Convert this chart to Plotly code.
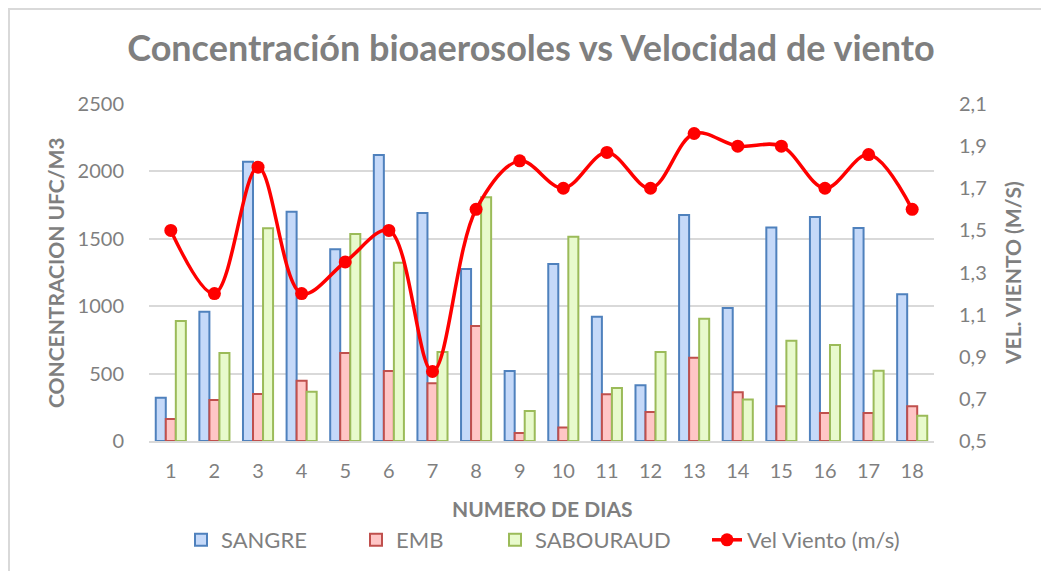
import plotly.graph_objects as go

dias = [str(i) for i in range(1, 19)]
sangre = [320, 959, 2072, 1701, 1422, 2122, 1691, 1276, 519, 1313, 922, 413, 1677, 987, 1583, 1662, 1580, 1088]
emb = [163, 304, 349, 447, 653, 519, 428, 853, 59, 101, 346, 215, 618, 361, 257, 208, 208, 257]
sabouraud = [890, 653, 1578, 366, 1536, 1323, 660, 1808, 223, 1516, 393, 660, 907, 307, 744, 712, 522, 188]
vel_viento = [1.5, 1.2, 1.8, 1.2, 1.35, 1.5, 0.83, 1.6, 1.83, 1.7, 1.87, 1.7, 1.96, 1.9, 1.9, 1.7, 1.86, 1.6]

FONT = "Lato"
GRAY = "#7F7F7F"

W, H = 1049, 571
OFF = 8  # page body margin
# plot area in screen pixels: x 149..934, y 104..441
L = 149 - OFF
T = 104 - OFF
PW, PH = 785, 337
R = W - L - PW
B = H - T - PH


def px(x):  # screen x -> paper
    return (x - OFF - L) / PW


def py(y):  # screen y -> paper
    return (T + PH - (y - OFF)) / PH


fig = go.Figure()
fig.add_trace(go.Bar(x=dias, y=sangre, name="SANGRE", legend="legend",
                     marker=dict(color="#C5D9F9", line=dict(color="#4F81BD", width=2))))
fig.add_trace(go.Bar(x=dias, y=emb, name="EMB", legend="legend2",
                     marker=dict(color="#FFC6C6", line=dict(color="#C0504D", width=2))))
fig.add_trace(go.Bar(x=dias, y=sabouraud, name="SABOURAUD", legend="legend3",
                     marker=dict(color="#E8FACC", line=dict(color="#9BBB59", width=2))))
fig.add_trace(go.Scatter(x=dias, y=vel_viento, name="Vel Viento (m/s)", yaxis="y2", legend="legend4",
                         mode="lines+markers",
                         line=dict(color="#FF0000", width=3.5, shape="spline", smoothing=1.0),
                         marker=dict(color="#FF0000", size=13, symbol="circle")))


def leg(text_start):
    return dict(orientation="h", x=px(text_start - 41), xanchor="left", y=py(540), yanchor="middle",
                font=dict(size=22, color=GRAY, family=FONT), bgcolor="rgba(0,0,0,0)")


fig.update_layout(
    width=W, height=H,
    margin=dict(l=L, r=R, t=T, b=B, autoexpand=False),
    paper_bgcolor="white", plot_bgcolor="white",
    separators=",.",
    font=dict(family=FONT, color=GRAY, size=20),
    barmode="group", bargap=0.31, bargroupgap=0,
    title=dict(text="<b>Concentración bioaerosoles vs Velocidad de viento</b>",
               x=px(531), xref="paper", xanchor="center",
               y=1 - (48 - OFF) / H, yanchor="middle",
               font=dict(family=FONT, size=36, color=GRAY)),
    xaxis=dict(type="category", range=[-0.5, 17.5], showgrid=False,
               showline=True, linecolor="#D9D9D9", linewidth=1.5,
               ticks="outside", ticklen=11, tickcolor="rgba(0,0,0,0)",
               tickfont=dict(size=20, color=GRAY)),
    yaxis=dict(range=[0, 2500], dtick=500, showgrid=True, gridcolor="#D9D9D9", gridwidth=1.5,
               zeroline=False, showline=False,
               ticks="outside", ticklen=20, tickcolor="rgba(0,0,0,0)",
               tickfont=dict(size=20, color=GRAY)),
    yaxis2=dict(range=[0.5, 2.1], dtick=0.2, tick0=0.5, overlaying="y", side="right",
                showgrid=False, zeroline=False, showline=False, tickformat=".1f",
                ticks="outside", ticklen=20, tickcolor="rgba(0,0,0,0)",
                tickfont=dict(size=20, color=GRAY)),
    legend=leg(222),
    legend2=leg(397),
    legend3=leg(536),
    legend4=leg(748),
    showlegend=True,
)

fig.add_annotation(text="<b>CONCENTRACION UFC/M3</b>", xref="paper", yref="paper",
                   x=px(55), y=py(273), xanchor="center", yanchor="middle",
                   textangle=-90, showarrow=False,
                   font=dict(family=FONT, size=21, color=GRAY))
fig.add_annotation(text="<b>VEL. VIENTO (M/S)</b>", xref="paper", yref="paper",
                   x=px(1012), y=py(273), xanchor="center", yanchor="middle",
                   textangle=-90, showarrow=False,
                   font=dict(family=FONT, size=21, color=GRAY))
fig.add_annotation(text="<b>NUMERO DE DIAS</b>", xref="paper", yref="paper",
                   x=px(542), y=py(508), xanchor="center", yanchor="middle", showarrow=False,
                   font=dict(family=FONT, size=21, color=GRAY))

fig.add_shape(type="rect", xref="paper", yref="paper",
              x0=px(OFF + 1), x1=px(1080), y0=py(OFF + 1), y1=py(600),
              line=dict(color="#D9D9D9", width=2), fillcolor="rgba(0,0,0,0)", layer="below")

fig.write_html("out.html")
